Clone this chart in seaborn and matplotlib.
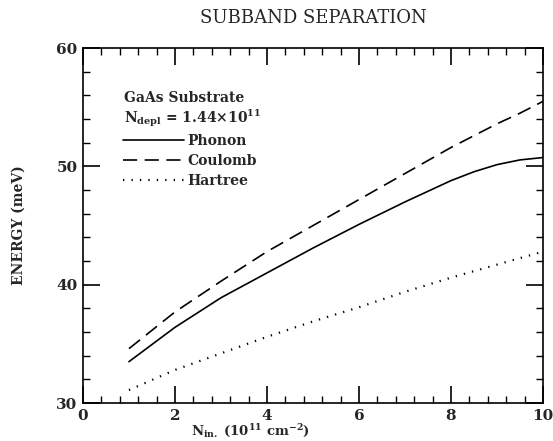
import matplotlib
matplotlib.use("Agg")
import matplotlib.pyplot as plt
import seaborn as sns
import pandas as pd
from matplotlib.ticker import MultipleLocator

# Values
n_in = [1, 2, 3, 4, 5, 6, 7, 8, 8.5, 9, 9.5, 10]
phonon = [33.5, 36.4, 38.9, 41.0, 43.1, 45.1, 47.0, 48.8, 49.55, 50.15, 50.55, 50.75]
coulomb = [34.6, 37.7, 40.3, 42.8, 45.0, 47.2, 49.4, 51.6, 52.6, 53.6, 54.5, 55.5]
hartree = [31.1, 32.8, 34.2, 35.6, 36.9, 38.1, 39.4, 40.6, 41.15, 41.7, 42.25, 42.8]

series_names = ["Phonon", "Coulomb", "Hartree"]
header_lines = ["GaAs Substrate", r"N$_{\mathbf{depl}}$ = 1.44$\times$10$^{\mathbf{11}}$"]

sns.set_style("ticks")
plt.rcParams['font.family'] = ['DejaVu Serif']
plt.rcParams['mathtext.fontset'] = 'dejavuserif'
plt.rcParams['mathtext.default'] = 'bf'

data = pd.DataFrame({"n": n_in, "Phonon": phonon, "Coulomb": coulomb, "Hartree": hartree})

fig = plt.figure(figsize=(5.53, 4.41), dpi=100)
ax = fig.add_axes([0.150, 0.086, 0.832, 0.805])

styles = {"Phonon": ("-", 1.2), "Coulomb": ((0, (8.5, 4.5)), 1.2),
          "Hartree": ((0, (0.6, 3.2)), 1.6)}
for name in series_names:
    ls, lw = styles[name]
    sns.lineplot(data=data, x="n", y=name, ax=ax, color="black",
                 linestyle=ls, linewidth=lw, label=name)

ax.set_xlim(0, 10)
ax.set_ylim(30, 60)
ax.xaxis.set_major_locator(MultipleLocator(2))
ax.xaxis.set_minor_locator(MultipleLocator(0.4))
ax.yaxis.set_major_locator(MultipleLocator(10))
ax.yaxis.set_minor_locator(MultipleLocator(2))
ax.tick_params(which="both", direction="in", top=True, right=True, color="black")
ax.tick_params(which="major", length=12, width=1.2, labelsize=11, pad=4)
ax.tick_params(which="minor", length=5, width=1)
for lbl in ax.get_xticklabels() + ax.get_yticklabels():
    lbl.set_fontweight("bold")
for sp in ax.spines.values():
    sp.set_linewidth(1.2)
    sp.set_color("black")

ax.set_title("SUBBAND SEPARATION", fontsize=13, pad=18)
ax.set_ylabel("ENERGY (meV)", fontsize=10, fontweight="bold", labelpad=22)
ax.set_xlabel(r"N$_{\mathbf{in.}}$ (10$^{\mathbf{11}}$ cm$^{\mathbf{-2}}$)",
              fontsize=9.5, fontweight="bold")
ax.xaxis.set_label_coords(0.365, -0.056)

ax.text(0.09, 0.859, header_lines[0], transform=ax.transAxes, fontsize=10,
        fontweight="bold", va="center")
ax.text(0.09, 0.803, header_lines[1], transform=ax.transAxes, fontsize=10,
        fontweight="bold", va="center")
leg = ax.legend(loc="upper left", bbox_to_anchor=(0.075, 0.775), frameon=False,
                fontsize=10, handlelength=4.4, handletextpad=0.2,
                labelspacing=0.45, borderaxespad=0)
for t in leg.get_texts():
    t.set_fontweight("bold")

fig.savefig("out.png", dpi=100)
